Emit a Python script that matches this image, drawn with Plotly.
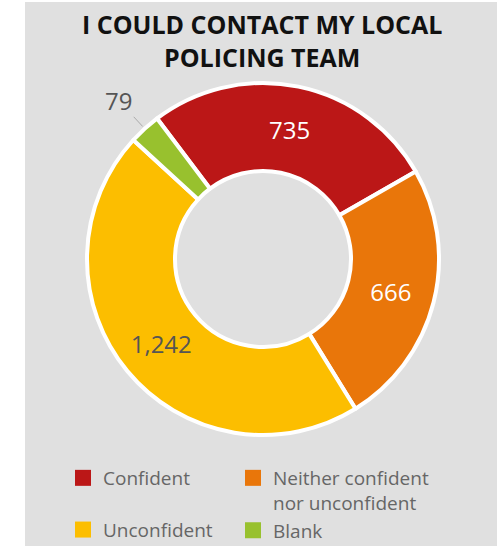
import math
import plotly.graph_objects as go

categories = ["Confident", "Neither confident<br>nor unconfident", "Unconfident", "Blank"]
values = [735, 666, 1242, 79]
colors = ["#bb1717", "#e9760a", "#fcbe00", "#98c12e"]
text_colors = ["#ffffff", "#ffffff", "#555555", "#555555"]
text_positions = ["inside", "inside", "inside", "none"]
legend_column = ["legend", "legend2", "legend", "legend2"]
title_text = "I COULD CONTACT MY LOCAL<br>POLICING TEAM"

W, H = 497, 546
ROTATION = -37
font_family = "Open Sans, Lato, sans-serif"

# pie domain in pixels (layout)
dom_x = (87, 439)
dom_y = (83, 435)

fig = go.Figure()
fig.add_trace(go.Pie(
    labels=categories,
    values=values,
    hole=0.5,
    sort=False,
    direction="clockwise",
    rotation=ROTATION,
    marker=dict(colors=colors, line=dict(color="#ffffff", width=4)),
    texttemplate="%{value:,}",
    textposition=text_positions,
    insidetextorientation="horizontal",
    textfont=dict(family=font_family, size=24, color=text_colors),
    domain=dict(x=[dom_x[0] / W, dom_x[1] / W], y=[1 - dom_y[1] / H, 1 - dom_y[0] / H]),
    hoverinfo="label+value",
    showlegend=False,
))

# legend entries (two columns) built from the same categories/colours
for i, (name, col) in enumerate(zip(categories, colors)):
    fig.add_trace(go.Scatter(
        x=[None], y=[None], mode="markers", name=name,
        marker=dict(symbol="square", size=16, color=col),
        legend=legend_column[i], legendgroup=f"g{i}", showlegend=True,
        hoverinfo="skip",
    ))

# outside label for the small last slice, placed at its mid-angle on the rim
total = sum(values)
start_deg = ROTATION + 360 * sum(values[:-1]) / total
mid_deg = start_deg + 180 * values[-1] / total
cx = (dom_x[0] + dom_x[1]) / 2
cy = (dom_y[0] + dom_y[1]) / 2
r = (dom_x[1] - dom_x[0]) / 2
px = cx + r * math.sin(math.radians(mid_deg))
py = cy - r * math.cos(math.radians(mid_deg))

legend_common = dict(
    orientation="v",
    yanchor="top",
    font=dict(family=font_family, size=19, color="#666666"),
    itemwidth=30,
    bgcolor="rgba(0,0,0,0)",
    valign="top",
    traceorder="grouped",
)

fig.update_layout(
    width=W, height=H,
    margin=dict(l=0, r=0, t=0, b=0, autoexpand=False),
    paper_bgcolor="#ffffff",
    plot_bgcolor="rgba(0,0,0,0)",
    font=dict(family=font_family, color="#555555"),
    xaxis=dict(visible=False),
    yaxis=dict(visible=False),
    shapes=[dict(
        type="rect", xref="paper", yref="paper",
        x0=25 / W, x1=1, y0=0, y1=1 - 2 / H,
        fillcolor="#e0e0e0", line=dict(width=0), layer="below",
    )],
    annotations=[
        dict(
            text="<b>" + title_text + "</b>",
            xref="paper", yref="paper",
            x=262 / W, xanchor="center",
            y=1 - 5 / H, yanchor="top",
            showarrow=False,
            font=dict(family=font_family, size=25, color="#111111"),
        ),
        dict(
            text=f"{values[-1]:,}",
            xref="paper", yref="paper",
            x=px / W, y=1 - py / H,
            showarrow=True, arrowhead=0, arrowwidth=1, arrowcolor="#aaaaaa",
            ax=-26, ay=-28, standoff=3,
            font=dict(family=font_family, size=24, color="#555555"),
        ),
    ],
    legend=dict(legend_common, x=63 / W, y=1 - 459 / H, tracegroupgap=24),
    legend2=dict(legend_common, x=233 / W, y=1 - 459 / H, tracegroupgap=0),
    showlegend=True,
)

fig.write_html(
    "out.html",
    config={"displayModeBar": False},
    post_script="document.body.style.margin='0';document.body.style.overflow='hidden';",
)
